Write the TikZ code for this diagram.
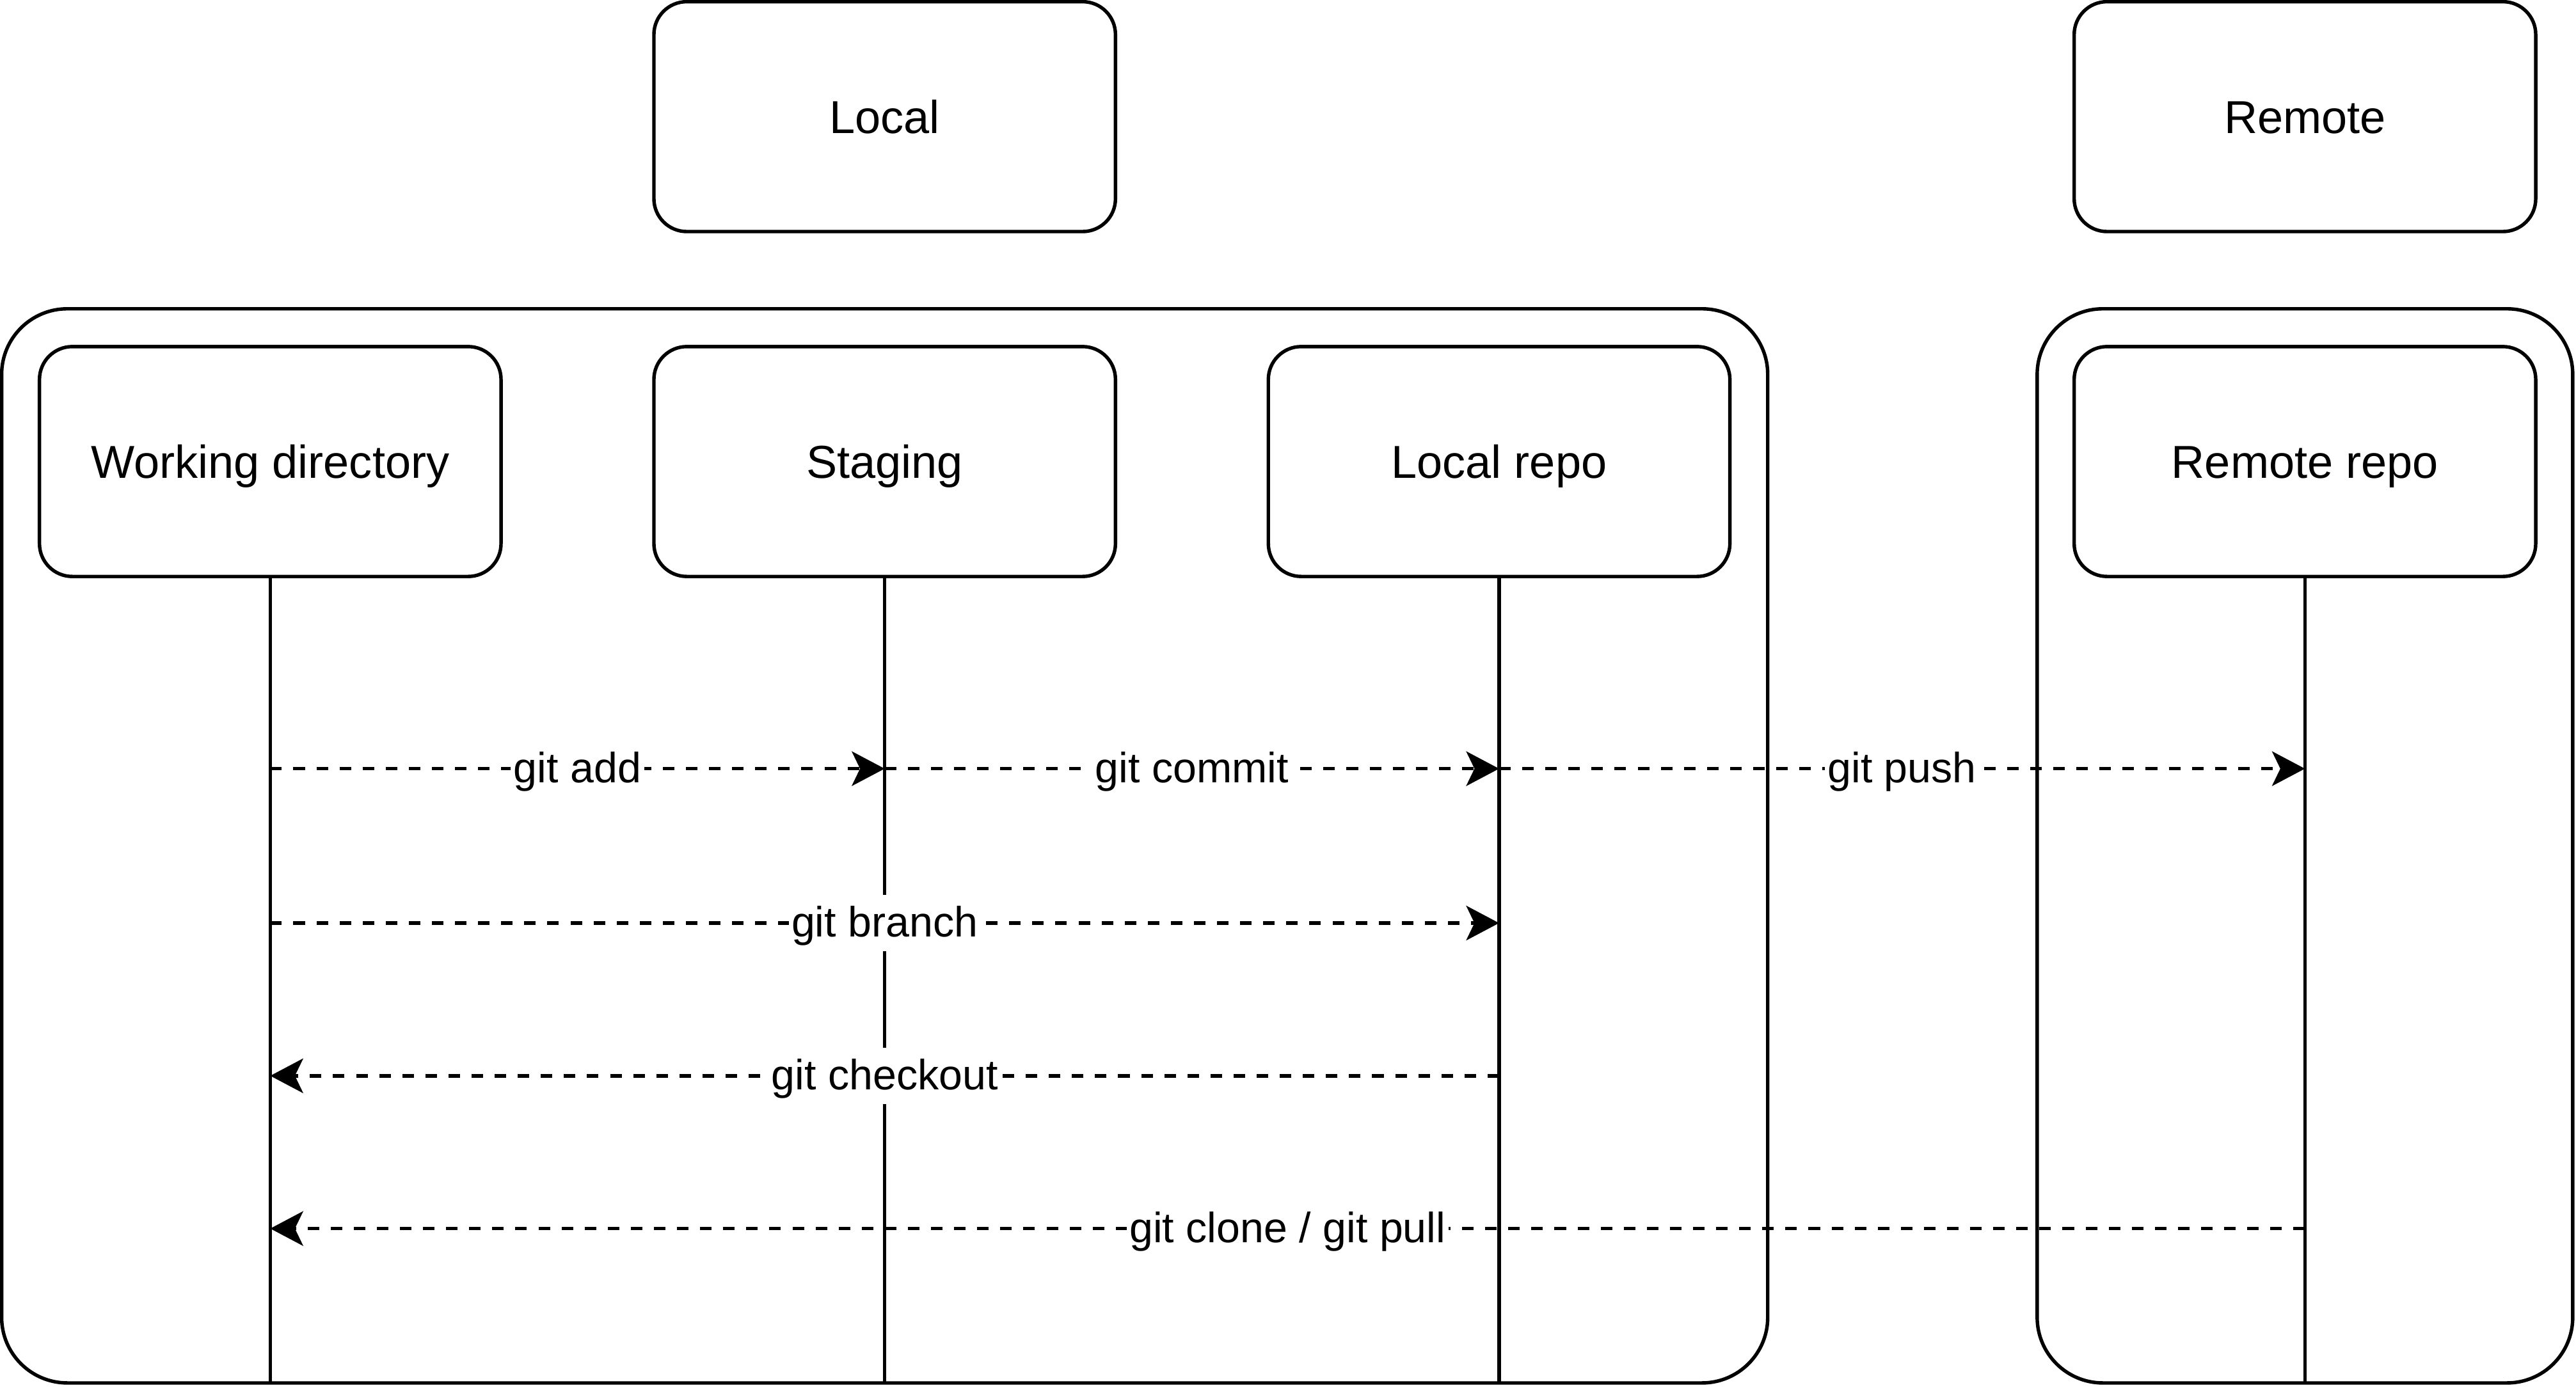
\documentclass[tikz,border=0pt]{standalone}
\usepackage{fontspec}
\setmainfont{Liberation Sans}
\usetikzlibrary{arrows.meta}

\begin{document}
\begin{tikzpicture}[x=0.02cm, y=-0.02cm, line width=1.2pt,
		box/.style={draw, rounded corners=0.4cm, minimum width=5.62cm, minimum height=2.8cm, text height=15pt, text depth=3.5pt, font=\fontsize{16}{19}\selectfont},
		frame/.style={draw, rounded corners=0.8cm},
		life/.style={draw},
		msg/.style={line width=1.25pt, dash pattern=on 4pt off 4pt, -{Stealth[length=0.4cm, width=0.42cm, inset=0.1cm]}},
		lbl/.style={fill=white, inner xsep=1pt, inner ysep=1pt, text height=13.5pt, text depth=3.9pt, font=\fontsize{14.7}{17}\selectfont}]
		\useasboundingbox (0,0) rectangle (1568,846);
		\draw[frame] (1,188) rectangle (1076,842);
		\draw[frame] (1240,188) rectangle (1566,842);
		\node[box] (local) at (538.5,71) {Local};
		\node[box] (remote) at (1403,71) {Remote};
		\node[box] (wd) at (164.5,281) {Working directory};
		\node[box] (stg) at (538.5,281) {Staging};
		\node[box] (lrepo) at (912.5,281) {Local repo};
		\node[box] (rrepo) at (1403,281) {Remote repo};
		\coordinate (bot) at (0,842);
		\coordinate (row1) at (0,468);
		\coordinate (row2) at (0,562);
		\coordinate (row3) at (0,655);
		\coordinate (row4) at (0,748);
		\draw[life] (wd.south) -- (wd.south |- bot);
		\draw[life] (stg.south) -- (stg.south |- bot);
		\draw[life] (lrepo.south) -- (lrepo.south |- bot);
		\draw[life] (rrepo.south) -- (rrepo.south |- bot);
		\draw[msg] (wd.south |- row1) -- node[lbl] {git add} (stg.south |- row1);
		\draw[msg] (stg.south |- row1) -- node[lbl] {git commit} (lrepo.south |- row1);
		\draw[msg] (lrepo.south |- row1) -- node[lbl] {git push} (rrepo.south |- row1);
		\draw[msg] (wd.south |- row2) -- node[lbl] {git branch} (lrepo.south |- row2);
		\draw[msg] (lrepo.south |- row3) -- node[lbl] {git checkout} (wd.south |- row3);
		\draw[msg] (rrepo.south |- row4) -- node[lbl] {git clone / git pull} (wd.south |- row4);
	\end{tikzpicture}
\end{document}
